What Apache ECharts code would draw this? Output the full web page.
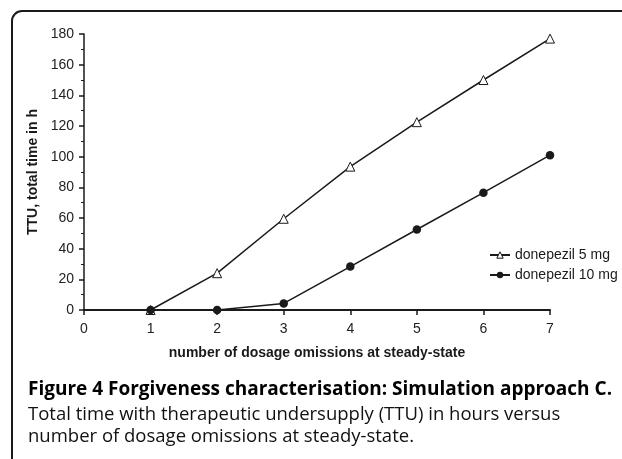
<!DOCTYPE html>
<html>
<head>
<meta charset="utf-8">
<script src="https://cdn.jsdelivr.net/npm/echarts@6/dist/echarts.min.js"></script>
<style>
  html, body { margin: 0; padding: 0; background: #fff; }
  #chart { width: 622px; height: 459px; }
</style>
</head>
<body>
<div id="chart"></div>
<script>
// values
const omissions = [1, 2, 3, 4, 5, 6, 7]
const ttu5mg = [0, 24, 59.5, 93.5, 122.5, 150, 177]
const ttu10mg = [0, 0, 4.3, 28.3, 52.5, 76.5, 101]
const seriesNames = ['donepezil 5 mg', 'donepezil 10 mg']

const captionTitle = 'Figure 4 Forgiveness characterisation: Simulation approach C.'
const captionLines = [
  'Total time with therapeutic undersupply (TTU) in hours versus',
  'number of dosage omissions at steady-state.'
]

const ink = '#1a1a1a'
const axisFont = 'Arial, "Liberation Sans", sans-serif'
const captionFont = '"Open Sans", "Noto Sans", sans-serif'

const pairs = (ys) => omissions.map((x, i) => [x, ys[i]])

const chart = echarts.init(document.getElementById('chart'))

chart.setOption({
  animation: false,
  backgroundColor: '#fff',
  textStyle: { fontFamily: axisFont, color: ink },
  grid: { left: 84, right: 72, top: 34, bottom: 149, outerBoundsMode: 'none' },
  legend: {
    data: seriesNames,
    orient: 'vertical',
    left: 484,
    top: 243,
    itemWidth: 20,
    itemHeight: 8,
    itemGap: 6,
    itemStyle: { borderWidth: 1 },
    textStyle: { fontSize: 14, color: ink, fontFamily: axisFont }
  },
  xAxis: {
    type: 'value',
    min: 0,
    max: 7,
    interval: 1,
    name: 'number of dosage omissions at steady-state',
    nameLocation: 'middle',
    nameGap: 36,
    nameTextStyle: { fontSize: 14, fontWeight: 'bold', color: ink },
    axisLine: { lineStyle: { color: ink, width: 2 } },
    axisTick: { length: 5, lineStyle: { color: ink, width: 1.5 } },
    axisLabel: { fontSize: 14, color: '#222', margin: 12 },
    splitLine: { show: false }
  },
  yAxis: {
    type: 'value',
    min: 0,
    max: 180,
    interval: 20,
    name: 'TTU, total time in h',
    nameLocation: 'middle',
    nameGap: 41,
    nameTextStyle: { fontSize: 14, fontWeight: 'bold', color: ink },
    axisLine: { show: true, lineStyle: { color: ink, width: 1.5 } },
    axisTick: { show: true, length: 5, lineStyle: { color: ink, width: 1.5 } },
    minorTick: { show: true, splitNumber: 2, length: 3, lineStyle: { color: ink, width: 1 } },
    axisLabel: { fontSize: 14, color: '#222', margin: 10 },
    splitLine: { show: false }
  },
  series: [
    {
      name: seriesNames[0],
      type: 'line',
      data: pairs(ttu5mg),
      symbol: 'triangle',
      symbolSize: 9,
      showAllSymbol: true,
      lineStyle: { color: ink, width: 1.5 },
      itemStyle: { color: '#fff', borderColor: ink, borderWidth: 1 },
      z: 3
    },
    {
      name: seriesNames[1],
      type: 'line',
      data: pairs(ttu10mg),
      symbol: 'circle',
      symbolSize: 8.5,
      showAllSymbol: true,
      lineStyle: { color: ink, width: 1.5 },
      itemStyle: { color: ink },
      z: 4
    }
  ],
  graphic: [
    {
      type: 'rect',
      silent: true,
      shape: { x: 12, y: 11, width: 660, height: 480, r: 10 },
      style: { fill: 'none', stroke: ink, lineWidth: 2 }
    },
    {
      type: 'text',
      left: 28,
      top: 380,
      style: { text: captionTitle, font: 'bold 19px ' + captionFont, fill: '#000' }
    },
    ...captionLines.map((line, i) => ({
      type: 'text',
      left: 28,
      top: 405 + i * 22,
      style: { text: line, font: '18.5px ' + captionFont, fill: '#111' }
    }))
  ]
})
</script>
</body>
</html>
